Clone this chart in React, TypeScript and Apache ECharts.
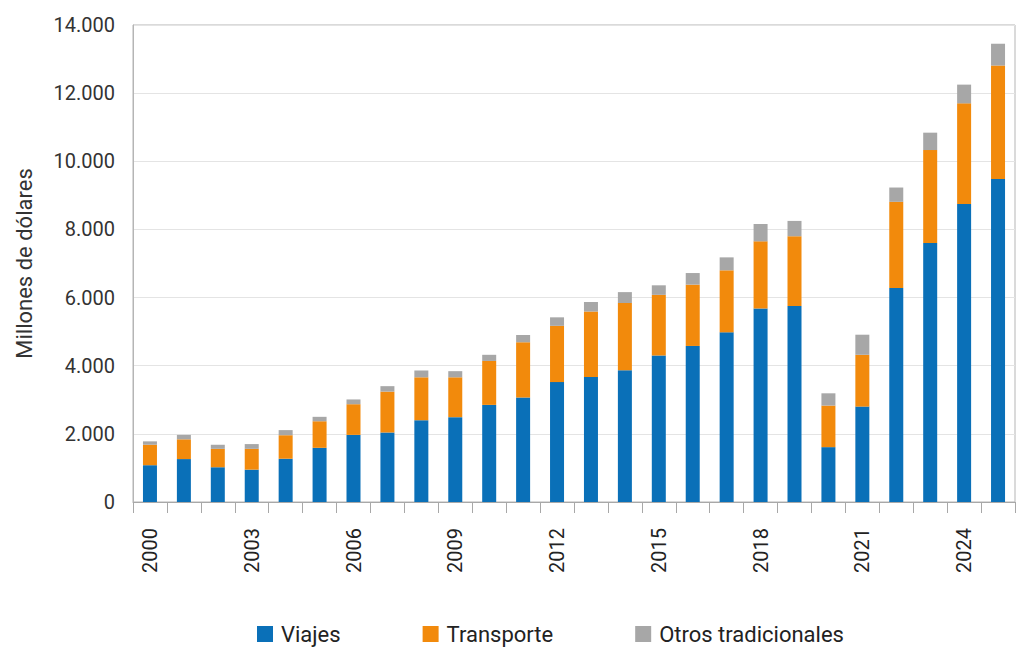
import React, { useEffect, useRef } from "react";
import * as echarts from "echarts";

const years = [
  "2000","2001","2002","2003","2004","2005","2006","2007","2008","2009",
  "2010","2011","2012","2013","2014","2015","2016","2017","2018","2019",
  "2020","2021","2022","2023","2024","2025",
];
const viajes = [
  1080, 1260, 1020, 950, 1270, 1590, 1970, 2040, 2400, 2490,
  2850, 3070, 3520, 3670, 3870, 4300, 4580, 4980, 5680, 5750,
  1610, 2800, 6280, 7600, 8750, 9480,
];
const transporte = [
  600, 580, 540, 610, 690, 780, 900, 1200, 1260, 1170,
  1290, 1620, 1650, 1920, 1970, 1780, 1800, 1820, 1970, 2050,
  1220, 1520, 2530, 2730, 2950, 3330,
];
const otros = [
  100, 130, 120, 140, 150, 130, 140, 160, 200, 180,
  180, 210, 250, 280, 320, 280, 340, 380, 510, 450,
  360, 590, 420, 510, 550, 640,
];
const seriesNames = ["Viajes", "Transporte", "Otros tradicionales"];
const colors = ["#0A70B8", "#F28A0C", "#A7A7A7"];

export default function App() {
  const ref = useRef<HTMLDivElement>(null);
  useEffect(() => {
    if (!ref.current) return;
    const chart = echarts.init(ref.current, null, { renderer: "svg" });
    const font = "Roboto";
    const mk = (name: string, data: number[], color: string) => ({
      name,
      type: "bar",
      stack: "total",
      data,
      barWidth: 14,
      itemStyle: { color },
    });
    chart.setOption({
      animation: false,
      textStyle: { fontFamily: font },
      grid: {
        left: 125,
        right: 1,
        top: 17,
        bottom: 156,
        show: true,
        borderColor: "#b5b5b5",
        borderWidth: 1,
        outerBoundsMode: "none",
        containLabel: false,
      },
      legend: {
        bottom: 8,
        left: 244,
        itemWidth: 16,
        itemHeight: 16,
        itemGap: 82,
        icon: "rect",
        textStyle: {
          fontSize: 22,
          color: "#222",
          fontFamily: font,
          padding: [0, 0, 0, 3],
        },
        data: seriesNames,
      },
      xAxis: {
        type: "category",
        data: years,
        axisLine: { lineStyle: { color: "#a8a8a8" } },
        axisTick: { show: true, length: 11, interval: 0, lineStyle: { color: "#a8a8a8" } },
        axisLabel: {
          interval: 2,
          rotate: 90,
          fontSize: 20,
          color: "#222",
          margin: 26,
          fontFamily: font,
        },
      },
      yAxis: {
        type: "value",
        min: 0,
        max: 14000,
        interval: 2000,
        name: "Millones de dólares",
        nameLocation: "middle",
        nameGap: 98,
        nameTextStyle: { fontSize: 22, color: "#333", fontFamily: font },
        axisLine: { show: true, lineStyle: { color: "#b5b5b5" } },
        axisTick: { show: false },
        splitLine: { lineStyle: { color: "#e4e4e4" } },
        axisLabel: {
          fontSize: 20,
          color: "#333",
          margin: 18,
          fontFamily: font,
          formatter: (v: number) =>
            String(v).replace(/\B(?=(\d{3})+(?!\d))/g, "."),
        },
      },
      series: [
        mk(seriesNames[0], viajes, colors[0]),
        mk(seriesNames[1], transporte, colors[1]),
        mk(seriesNames[2], otros, colors[2]),
      ],
    });
    return () => chart.dispose();
  }, []);
  return <div ref={ref} style={{ width: 1008, height: 650 }} />;
}
